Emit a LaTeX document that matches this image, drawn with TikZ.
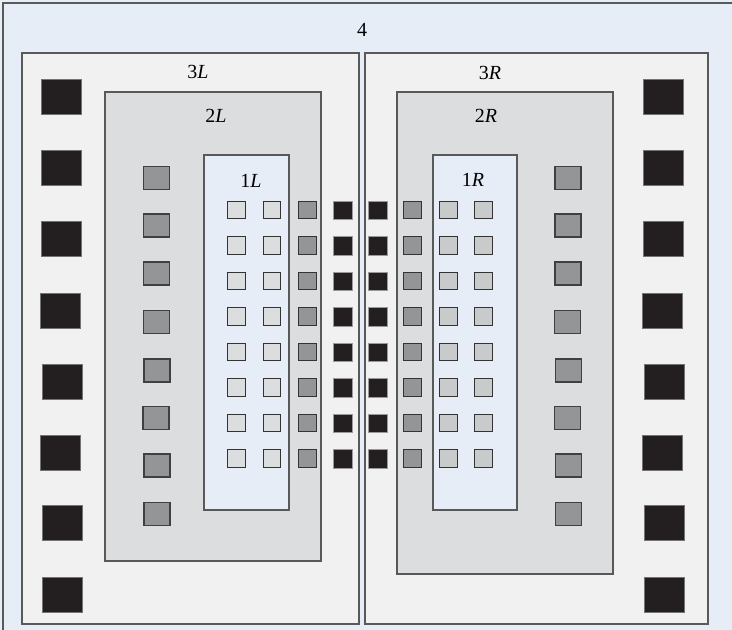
\documentclass[tikz,border=0pt]{standalone}
\usepackage{fontspec}
\setmainfont{Liberation Serif}
\begin{document}
\begin{tikzpicture}[x=1pt,y=-1pt,
  boxline/.style={draw=black!65,line width=1.3pt},
  blk/.style={draw=black!55,fill=blkc,line width=0.6pt,inner sep=0pt,minimum width=40pt,minimum height=35pt},
  gry/.style={draw=black!75,fill=gryc,line width=1.1pt,inner sep=0pt,minimum width=26pt,minimum height=23pt},
  lsqL/.style={draw=black!80,fill=lLc,line width=0.9pt,inner sep=0pt,minimum size=17.5pt},
  lsqR/.style={draw=black!80,fill=lRc,line width=0.9pt,inner sep=0pt,minimum size=17.5pt},
  gsq/.style={draw=black!80,fill=gryc,line width=0.9pt,inner sep=0pt,minimum size=17.5pt},
  bsq/.style={draw=black!40,fill=blkc,line width=0.5pt,inner sep=0pt,minimum size=18.5pt},
  lbl/.style={inner sep=0pt,font=\fontsize{20}{24}\selectfont}]
\definecolor{bgc}{HTML}{E6EDF7}
\definecolor{c3}{HTML}{F1F1F1}
\definecolor{c2}{HTML}{DCDDDF}
\definecolor{blkc}{HTML}{231F20}
\definecolor{gryc}{HTML}{939597}
\definecolor{lLc}{HTML}{DCDDDE}
\definecolor{lRc}{HTML}{C9CACB}
\useasboundingbox (0,0) rectangle (732,630);
\clip (0,0) rectangle (732,630);
\fill[bgc] (0,0) rectangle (732,630);
\draw[boxline] (3,640) -- (3,3) -- (740,3);
% level 3
\draw[boxline,fill=c3] (22,53) rectangle (359,624);
\draw[boxline,fill=c3] (365,53) rectangle (708,624);
% level 2
\draw[boxline,fill=c2] (105,92) rectangle (321,561);
\draw[boxline,fill=c2] (397,92) rectangle (613,574);
% level 1
\draw[boxline,fill=bgc] (204,155) rectangle (289,510);
\draw[boxline,fill=bgc] (433,155) rectangle (517,510);
% labels
\node[lbl] (l4) at (362,30) {4};
\node[lbl] (l3L) at (198,72) {3\textit{L}};
\node[lbl] (l3R) at (490,73) {3\textit{R}};
\node[lbl] (l2L) at (216,116) {2\textit{L}};
\node[lbl] (l2R) at (486,116) {2\textit{R}};
\node[lbl] (l1L) at (251,181) {1\textit{L}};
\node[lbl] (l1R) at (473,180) {1\textit{R}};
% big black squares, left and right
\foreach \i/\xl/\xr/\y in {1/61.5/663.5/97, 2/61.5/663.5/168, 3/61.5/663.5/239, 4/60.5/662.5/311, 5/62.5/664.5/381.5, 6/60.5/662.5/452.5, 7/62.5/664/522.5, 8/62.5/664.5/594.5}{
  \node[blk] (bL\i) at (\xl,\y) {};
  \node[blk] (bR\i) at (\xr,\y) {};
}
% medium grey squares, left and right
\foreach \i/\xl/\xr/\y in {1/156.5/568/178, 2/156.5/568/225.5, 3/156.5/568/273.5, 4/156.5/567.5/322, 5/157/568.5/370.5, 6/156/567.5/418, 7/157/568.5/465.5, 8/157/568.5/514}{
  \node[gry] (gL\i) at (\xl,\y) {};
  \node[gry] (gR\i) at (\xr,\y) {};
}
% small squares grid
\foreach \r in {0,...,7}{
  \pgfmathsetmacro{\yy}{210+35.5*\r}
  \node[lsqL] (a\r) at (236.5,\yy) {};
  \node[lsqL] (b\r) at (272,\yy) {};
  \node[gsq]  (c\r) at (307.5,\yy) {};
  \node[bsq]  (d\r) at (342.5,\yy) {};
  \node[bsq]  (e\r) at (377.5,\yy) {};
  \node[gsq]  (f\r) at (412.5,\yy) {};
  \node[lsqR] (g\r) at (448.5,\yy) {};
  \node[lsqR] (h\r) at (483.5,\yy) {};
}
\end{tikzpicture}
\end{document}
